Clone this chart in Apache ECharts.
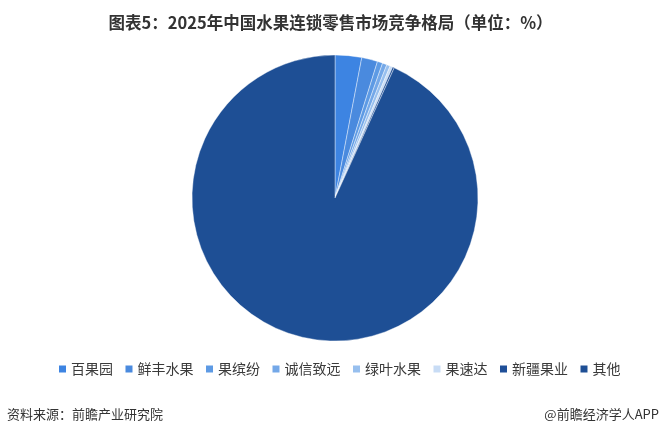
<!DOCTYPE html>
<html><head><meta charset="utf-8">
<script src="https://cdn.jsdelivr.net/npm/echarts@6/dist/echarts.min.js"></script>
<style>html,body{margin:0;padding:0;background:#fff;}#c{width:661px;height:439px;}</style>
</head><body><div id="c"></div>
<script>
const categories = ['百果园','鲜丰水果','果缤纷','诚信致远','绿叶水果','果速达','新疆果业','其他'];
const values = [3.0, 1.8, 0.6, 0.5, 0.4, 0.3, 0.2, 93.2];
const colors = ['#3d84e2','#4a8ade','#5d9ae4','#74a8e8','#97bfee','#c8dcf5','#1f4f98','#1e4f95'];
const titleText = '图表5：2025年中国水果连锁零售市场竞争格局（单位：%）';
const sourceText = '资料来源：前瞻产业研究院';
const brandText = '@前瞻经济学人APP';

const chart = echarts.init(document.getElementById('c'));
chart.setOption({
  animation: false,
  backgroundColor: '#fff',
  color: colors,
  title: {
    text: titleText, left: 'center', top: 9,
    textStyle: {fontSize: 16.5, fontWeight: 'bold', color: '#333', fontFamily: 'Noto Sans CJK SC'}
  },
  legend: {
    data: categories, bottom: 58, left: 52,
    itemWidth: 9, itemHeight: 9, itemGap: 10.5, icon: 'rect',
    textStyle: {fontSize: 14, color: '#3a3a3a', fontFamily: 'Noto Sans CJK SC', padding: [0,0,0,-1]}
  },
  graphic: [
    {type: 'text', left: 7, top: 408, style: {text: sourceText, fontSize: 13, fill: '#333', fontFamily: 'Noto Sans CJK SC'}},
    {type: 'text', right: 2, top: 408, style: {text: brandText, fontSize: 13, fill: '#333', fontFamily: 'Noto Sans CJK SC'}}
  ],
  series: [{
    type: 'pie', center: [335, 198], radius: [0, 143], startAngle: 90, clockwise: true,
    label: {show: false}, labelLine: {show: false},
    itemStyle: {borderColor: '#fff', borderWidth: 0.4},
    data: categories.map((n, i) => ({name: n, value: values[i]}))
  }]
});
</script></body></html>
